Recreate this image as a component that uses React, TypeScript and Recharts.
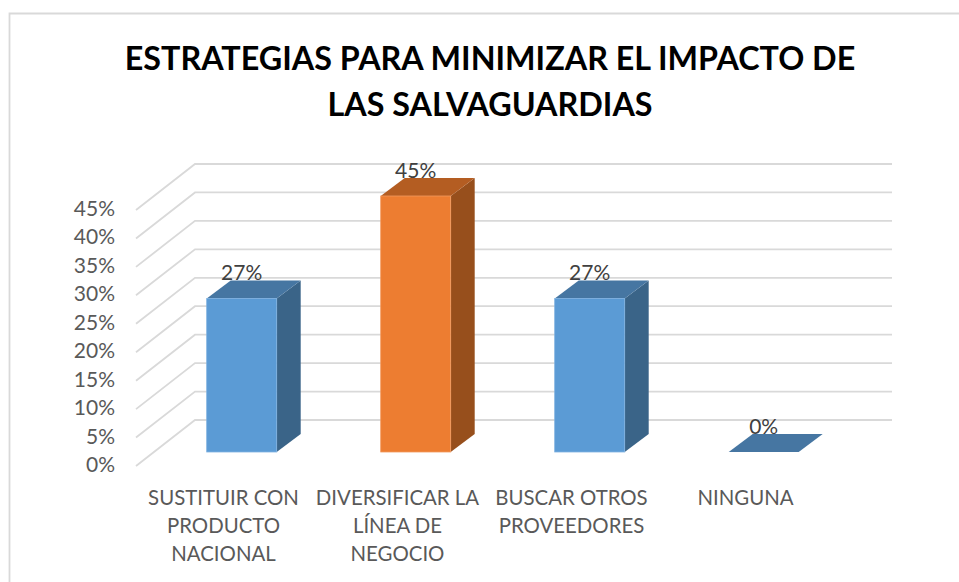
import React from 'react';
import { BarChart, Bar, XAxis, YAxis, LabelList, CartesianGrid } from 'recharts';

const categories = [
  'SUSTITUIR CON\nPRODUCTO\nNACIONAL',
  'DIVERSIFICAR LA\nLÍNEA DE\nNEGOCIO',
  'BUSCAR OTROS\nPROVEEDORES',
  'NINGUNA',
];
const values = [27, 45, 27, 0];
const yTicks = [0, 5, 10, 15, 20, 25, 30, 35, 40, 45];
const titleLines = ['ESTRATEGIAS PARA MINIMIZAR EL IMPACTO DE', 'LAS SALVAGUARDIAS'];

const palette = [
  { front: '#5b9bd5', top: '#4676a2', side: '#3a6488', edge: '#7fb1e0' },
  { front: '#ed7d31', top: '#b45d22', side: '#974f1c', edge: '#f29a5e' },
  { front: '#5b9bd5', top: '#4676a2', side: '#3a6488', edge: '#7fb1e0' },
  { front: '#5b9bd5', top: '#4676a2', side: '#3a6488', edge: '#7fb1e0' },
];

const data = categories.map((name, i) => ({ name, value: values[i] }));

const FONT = 'Lato, "Open Sans", sans-serif';
const GRID = '#d9d9d9';
// fake 3d depth of the bars and of the walls
const DX = 24;
const DY = 18;

const Bar3D = (props: any) => {
  const { x, y, width, height, index } = props;
  const c = palette[index];
  return (
    <g>
      <polygon
        points={`${x + width},${y} ${x + width + DX},${y - DY} ${x + width + DX},${y + height - DY} ${x + width},${y + height}`}
        fill={c.side}
      />
      <polygon
        points={`${x},${y} ${x + DX},${y - DY} ${x + width + DX},${y - DY} ${x + width},${y}`}
        fill={c.top}
      />
      {height > 0 && (
        <rect x={x} y={y} width={width} height={height} fill={c.front} stroke={c.edge} strokeWidth={0.8} />
      )}
    </g>
  );
};

// grid line on the back wall plus the diagonal on the side wall
const WallLine = (props: any) => {
  const { y1 } = props;
  return (
    <polyline
      points={`136,${y1 + 14} 195,${y1 - 32} 892,${y1 - 32}`}
      fill="none"
      stroke={GRID}
      strokeWidth={1.8}
    />
  );
};

const PercentTick = (props: any) => {
  const { y, payload } = props;
  return (
    <text x={115} y={y + 20} textAnchor="end" fontFamily={FONT} fontSize={21} fill="#595959">
      {payload.value}%
    </text>
  );
};

const CategoryTick = (props: any) => {
  const { x, y, payload } = props;
  const lines = String(payload.value).split('\n');
  return (
    <text x={x - 18} y={y} textAnchor="middle" fontFamily={FONT} fontSize={20.4} fill="#595959">
      {lines.map((line, i) => (
        <tspan key={i} x={x - 18} y={y + 45 + i * 28}>
          {line}
        </tspan>
      ))}
    </text>
  );
};

const ValueLabel = (props: any) => {
  const { x, y, width, value } = props;
  return (
    <text x={x + width / 2} y={y - 18} textAnchor="middle" fontFamily={FONT} fontSize={21} fill="#404040">
      {value}%
    </text>
  );
};

export default function App() {
  return (
    <div style={{ position: 'absolute', left: 0, top: 0, width: 959, height: 582, background: '#fff', overflow: 'hidden' }}>
      <BarChart
        width={959}
        height={582}
        data={data}
        barCategoryGap="30%"
        margin={{ top: 196, right: 108.5, bottom: 100, left: 94.5 }}
      >
        <path d="M9.5 582 V13.5 H959" fill="none" stroke={GRID} strokeWidth={1.8} />
        {titleLines.map((line, i) => (
          <text
            key={line}
            x={490}
            y={70 + i * 46}
            textAnchor="middle"
            fontFamily={FONT}
            fontSize={32.3}
            fontWeight={700}
            fill="#000"
          >
            {line}
          </text>
        ))}
        <CartesianGrid vertical={false} horizontal={<WallLine />} />
        <XAxis dataKey="name" height={30} axisLine={false} tickLine={false} tick={<CategoryTick />} interval={0} />
        <YAxis
          width={60}
          domain={[0, 45]}
          ticks={yTicks}
          axisLine={false}
          tickLine={false}
          tick={<PercentTick />}
          interval={0}
        />
        <Bar dataKey="value" shape={<Bar3D />} isAnimationActive={false}>
          <LabelList dataKey="value" content={<ValueLabel />} />
        </Bar>
      </BarChart>
    </div>
  );
}
